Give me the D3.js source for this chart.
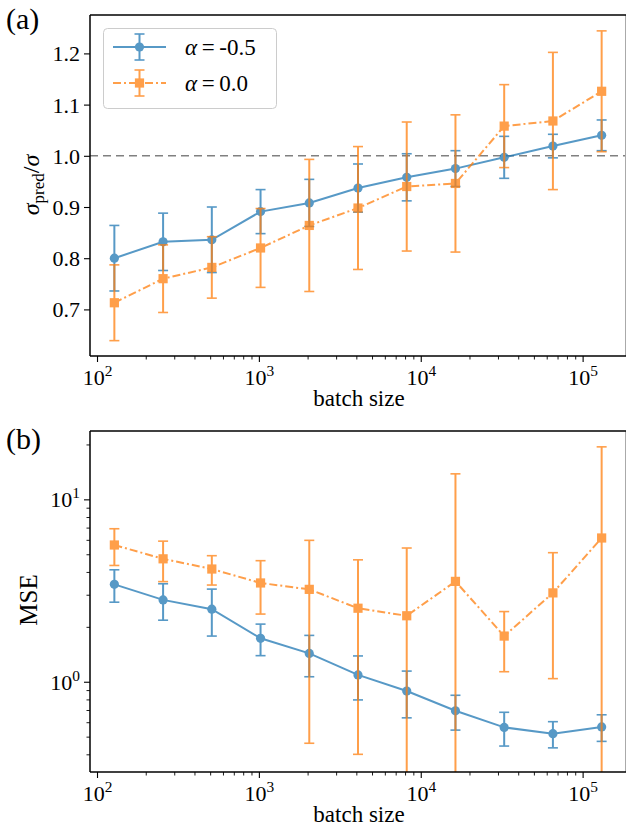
<!DOCTYPE html>
<html><head><meta charset="utf-8">
<script src="https://cdn.jsdelivr.net/npm/d3@7"></script>
<style>
body{margin:0;background:#fff}
svg{display:block}
text{font-family:"Liberation Serif","Times New Roman",serif;fill:#000}
</style>
</head><body>
<svg id="fig" width="627" height="827"></svg>
<script>
// Batch sizes (2^7 ... 2^17)
const batchSizes = [128, 256, 512, 1024, 2048, 4096, 8192, 16384, 32768, 65536, 131072];
const alphaLabels = ["-0.5", "0.0"];

// (a) ratio of predicted to true sigma, mean and std
const ratioNeg05    = [0.800, 0.832, 0.836, 0.891, 0.908, 0.937, 0.958, 0.975, 0.997, 1.019, 1.040];
const ratioNeg05Err = [0.064, 0.056, 0.064, 0.043, 0.046, 0.047, 0.046, 0.035, 0.041, 0.023, 0.030];
const ratioZero     = [0.713, 0.760, 0.782, 0.820, 0.864, 0.898, 0.940, 0.946, 1.058, 1.068, 1.126];
const ratioZeroErr  = [0.074, 0.066, 0.060, 0.077, 0.129, 0.120, 0.126, 0.134, 0.081, 0.134, 0.118];

// (b) mean squared error, mean and std
const mseNeg05    = [3.42, 2.81, 2.50, 1.73, 1.43, 1.09, 0.889, 0.693, 0.562, 0.519, 0.565];
const mseNeg05Std = [0.69, 0.635, 0.72, 0.34, 0.365, 0.295, 0.255, 0.150, 0.118, 0.085, 0.094];
const mseZero     = [5.62, 4.72, 4.15, 3.48, 3.21, 2.53, 2.30, 3.55, 1.78, 3.07, 6.14];
const mseZeroStd  = [1.28, 1.18, 0.76, 1.13, 2.75, 2.13, 3.11, 10.25, 0.645, 2.03, 13.26];

const ratioTicks = [0.7, 0.8, 0.9, 1.0, 1.1, 1.2];
const mseTicks = [1, 10];
const mseExp = ["0", "1"];
const batchTicks = [100, 1000, 10000, 100000];
const batchExp = ["2", "3", "4", "5"];

const BLUE = "#1f77b4", ORANGE = "#ff7f0e";
const svg = d3.select("#fig");

const W = {left: 90, right: 626};
const panelA = {top: 15, bottom: 356};
const panelB = {top: 431, bottom: 772};

const x = d3.scaleLog().domain([Math.pow(10, 1.9567), Math.pow(10, 5.268)]).range([W.left, W.right]);
const yA = d3.scaleLinear().domain([0.609, 1.275]).range([panelA.bottom, panelA.top]);
const yB = d3.scaleLog().domain([0.32, 23.7]).range([panelB.bottom, panelB.top]);

function minorLog(lo, hi) {
  const out = [];
  for (let e = Math.floor(Math.log10(lo)); e <= Math.ceil(Math.log10(hi)); e++) {
    for (let m = 2; m <= 9; m++) {
      const v = m * Math.pow(10, e);
      if (v >= lo && v <= hi) out.push(v);
    }
  }
  return out;
}

function supLabels(sel, exps, size) {
  sel.selectAll(".tick text").each(function(d, i) {
    const t = d3.select(this).text(null);
    t.append("tspan").text("10");
    t.append("tspan").attr("dy", -9).attr("font-size", size * 0.7).text(exps[i]);
  });
}

function styleAxis(g) {
  g.select(".domain").remove();
  g.selectAll(".tick line").attr("stroke", "#000").attr("stroke-width", 1.1);
  g.selectAll(".tick text").attr("font-size", 22).attr("font-family", '"Liberation Serif",serif');
}

function drawFrame(p, id) {
  svg.append("defs").append("clipPath").attr("id", id)
    .append("rect").attr("x", W.left).attr("y", p.top).attr("width", W.right - W.left).attr("height", p.bottom - p.top);
}

function xAxis(p, labelY) {
  const g = svg.append("g").attr("transform", `translate(0,${p.bottom})`);
  g.call(d3.axisBottom(x).tickValues(minorLog(x.domain()[0], x.domain()[1])).tickSize(3.5).tickFormat(""));
  styleAxis(g);
  g.selectAll(".tick line").attr("stroke-width", 0.9);
  const gm = svg.append("g").attr("transform", `translate(0,${p.bottom})`);
  gm.call(d3.axisBottom(x).tickValues(batchTicks).tickSize(6).tickPadding(7));
  styleAxis(gm);
  gm.selectAll(".tick text").attr("dy", "0.71em");
  supLabels(gm, batchExp, 22);
  svg.append("text").attr("x", (W.left + W.right) / 2 + 1).attr("y", labelY)
    .attr("text-anchor", "middle").attr("font-size", 23).text("batch size");
}

function spines(p) {
  const g = svg.append("g").attr("fill", "none");
  g.append("line").attr("x1", W.right - 0.5).attr("x2", W.right - 0.5).attr("y1", p.top).attr("y2", p.bottom)
    .attr("stroke", "#aaa").attr("stroke-width", 1);
  g.append("line").attr("x1", W.left).attr("x2", W.right).attr("y1", p.top).attr("y2", p.top)
    .attr("stroke", "#000").attr("stroke-width", 1.5);
  g.append("line").attr("x1", W.left).attr("x2", W.right).attr("y1", p.bottom).attr("y2", p.bottom)
    .attr("stroke", "#000").attr("stroke-width", 1.5);
  g.append("line").attr("x1", W.left).attr("x2", W.left).attr("y1", p.top).attr("y2", p.bottom)
    .attr("stroke", "#000").attr("stroke-width", 1.5);
}

function series(clipId, y, means, lows, highs, color, marker, dash) {
  const g = svg.append("g").attr("clip-path", `url(#${clipId})`).attr("opacity", 0.75);
  const pts = batchSizes.map((b, i) => ({b, m: means[i], lo: Math.max(lows[i], 1e-3), hi: highs[i]}));
  g.selectAll("line.err").data(pts).join("line")
    .attr("x1", d => x(d.b)).attr("x2", d => x(d.b))
    .attr("y1", d => y(d.lo)).attr("y2", d => y(d.hi))
    .attr("stroke", color).attr("stroke-width", 2);
  ["lo", "hi"].forEach(k => {
    g.selectAll("line.cap" + k).data(pts).join("line")
      .attr("x1", d => x(d.b) - 5).attr("x2", d => x(d.b) + 5)
      .attr("y1", d => y(d[k])).attr("y2", d => y(d[k]))
      .attr("stroke", color).attr("stroke-width", 1.6);
  });
  g.append("path").datum(pts)
    .attr("d", d3.line().x(d => x(d.b)).y(d => y(d.m)))
    .attr("fill", "none").attr("stroke", color).attr("stroke-width", 2)
    .attr("stroke-dasharray", dash);
  if (marker === "circle") {
    g.selectAll("circle").data(pts).join("circle")
      .attr("cx", d => x(d.b)).attr("cy", d => y(d.m)).attr("r", 4.6).attr("fill", color);
  } else {
    g.selectAll("rect").data(pts).join("rect")
      .attr("x", d => x(d.b) - 4.6).attr("y", d => y(d.m) - 4.6)
      .attr("width", 9.2).attr("height", 9.2).attr("fill", color);
  }
}

// ---------- panel (a) ----------
drawFrame(panelA, "clipA");
svg.append("line").attr("clip-path", "url(#clipA)")
  .attr("x1", W.left).attr("x2", W.right).attr("y1", yA(1.0)).attr("y2", yA(1.0))
  .attr("stroke", "#808080").attr("stroke-width", 1.6).attr("stroke-dasharray", "8,5");

series("clipA", yA, ratioNeg05,
  ratioNeg05.map((v, i) => v - ratioNeg05Err[i]), ratioNeg05.map((v, i) => v + ratioNeg05Err[i]),
  BLUE, "circle", null);
series("clipA", yA, ratioZero,
  ratioZero.map((v, i) => v - ratioZeroErr[i]), ratioZero.map((v, i) => v + ratioZeroErr[i]),
  ORANGE, "square", "8,3,2,3");

const gyA = svg.append("g").attr("transform", `translate(${W.left},0)`);
gyA.call(d3.axisLeft(yA).tickValues(ratioTicks).tickSize(6).tickPadding(4).tickFormat(d3.format(".1f")));
styleAxis(gyA);
gyA.selectAll(".tick text").attr("dy", "0.34em");
xAxis(panelA, 406);
spines(panelA);

const yLabA = svg.append("text").attr("transform", "translate(39,185) rotate(-90)")
  .attr("text-anchor", "middle").attr("font-size", 24);
yLabA.append("tspan").attr("font-style", "italic").text("σ");
yLabA.append("tspan").attr("font-size", 17).attr("dy", 5).text("pred");
yLabA.append("tspan").attr("dy", -5).text("/");
yLabA.append("tspan").attr("font-style", "italic").text("σ");

svg.append("text").attr("x", 6).attr("y", 29).attr("font-size", 30).text("(a)");

// legend
const leg = svg.append("g");
leg.append("rect").attr("x", 103.5).attr("y", 28.5).attr("width", 173).attr("height", 80).attr("rx", 4)
  .attr("fill", "#fff").attr("fill-opacity", 0.8).attr("stroke", "#ccc").attr("stroke-width", 1);
[[BLUE, "circle", null, 47], [ORANGE, "square", "8,3,2,3", 83]].forEach(([c, mk, dash, ry], i) => {
  const g = leg.append("g").attr("opacity", 0.75);
  g.append("line").attr("x1", 113).attr("x2", 166).attr("y1", ry).attr("y2", ry)
    .attr("stroke", c).attr("stroke-width", 2).attr("stroke-dasharray", dash);
  g.append("line").attr("x1", 139.5).attr("x2", 139.5).attr("y1", ry - 13).attr("y2", ry + 13)
    .attr("stroke", c).attr("stroke-width", 2);
  [ry - 13, ry + 13].forEach(cy => g.append("line").attr("x1", 134.5).attr("x2", 144.5)
    .attr("y1", cy).attr("y2", cy).attr("stroke", c).attr("stroke-width", 1.6));
  if (mk === "circle") g.append("circle").attr("cx", 139.5).attr("cy", ry).attr("r", 4.6).attr("fill", c);
  else g.append("rect").attr("x", 134.9).attr("y", ry - 4.6).attr("width", 9.2).attr("height", 9.2).attr("fill", c);
  const t = leg.append("text").attr("x", 185).attr("y", ry + 8).attr("font-size", 23);
  t.append("tspan").attr("font-style", "italic").text("α");
  t.append("tspan").text("\u2009=\u2009" + alphaLabels[i]);
});

// ---------- panel (b) ----------
drawFrame(panelB, "clipB");
series("clipB", yB, mseNeg05,
  mseNeg05.map((v, i) => v - mseNeg05Std[i]), mseNeg05.map((v, i) => v + mseNeg05Std[i]),
  BLUE, "circle", null);
series("clipB", yB, mseZero,
  mseZero.map((v, i) => v - mseZeroStd[i]), mseZero.map((v, i) => v + mseZeroStd[i]),
  ORANGE, "square", "8,3,2,3");

const gyBm = svg.append("g").attr("transform", `translate(${W.left},0)`);
gyBm.call(d3.axisLeft(yB).tickValues(minorLog(yB.domain()[0], yB.domain()[1])).tickSize(3.5).tickFormat(""));
styleAxis(gyBm);
gyBm.selectAll(".tick line").attr("stroke-width", 0.9);
const gyB = svg.append("g").attr("transform", `translate(${W.left},0)`);
gyB.call(d3.axisLeft(yB).tickValues(mseTicks).tickSize(6).tickPadding(4));
styleAxis(gyB);
gyB.selectAll(".tick text").attr("dy", "0.34em");
supLabels(gyB, mseExp, 22);
xAxis(panelB, 822);
spines(panelB);

svg.append("text").attr("transform", "translate(37,600) rotate(-90)")
  .attr("text-anchor", "middle").attr("font-size", 25).text("MSE");
svg.append("text").attr("x", 6).attr("y", 449).attr("font-size", 30).text("(b)");
</script>
</body></html>
